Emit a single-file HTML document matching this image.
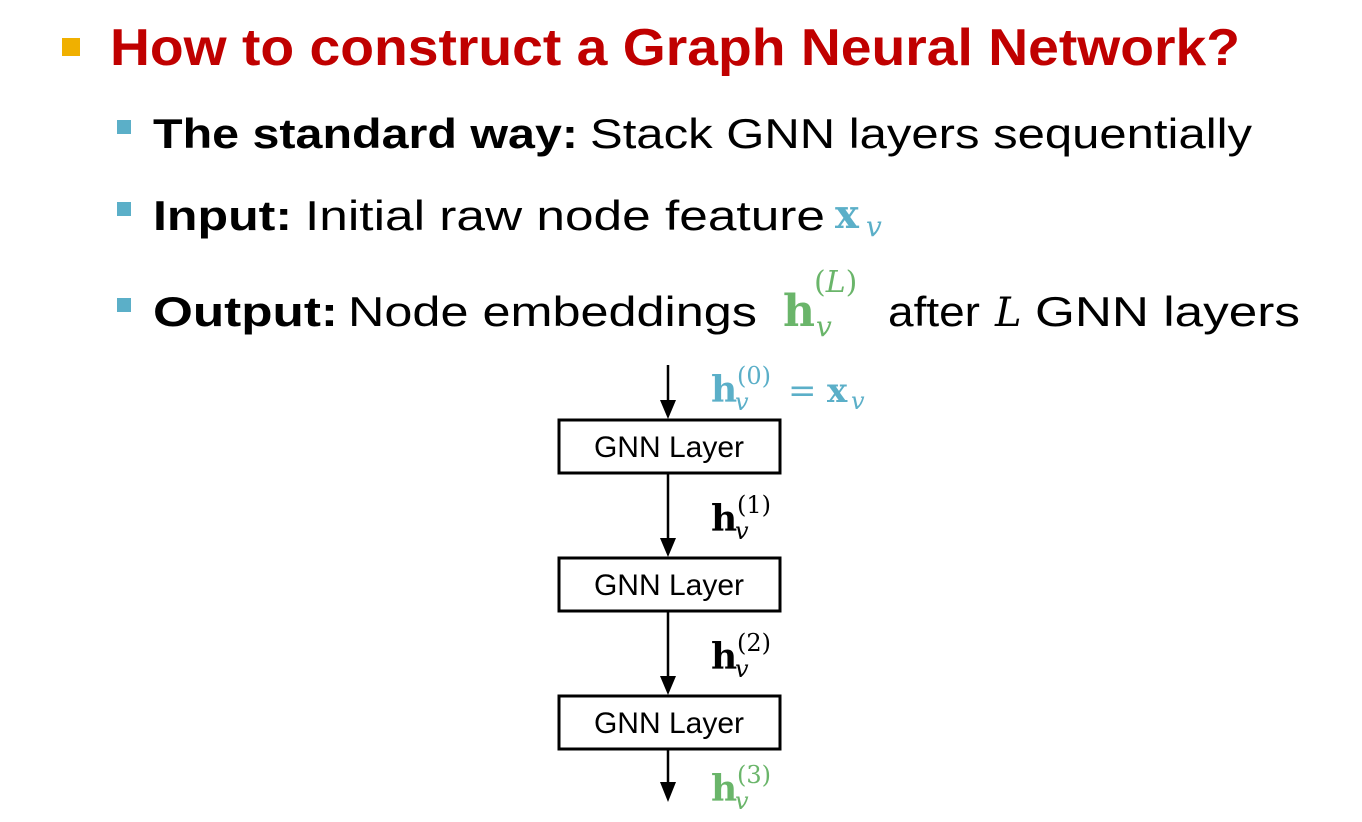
<!DOCTYPE html>
<html><head><meta charset="utf-8"><style>
body{margin:0;background:#fff;}
svg{display:block}
.m{font-family:"DejaVu Serif","Liberation Serif",serif;font-weight:bold}
.i{font-family:"DejaVu Serif","Liberation Serif",serif;font-style:italic}
.n{font-family:"DejaVu Serif","Liberation Serif",serif}
</style></head><body>
<svg width="1362" height="822" xmlns="http://www.w3.org/2000/svg">
<rect x="62" y="38" width="18" height="18" fill="#F0B000"/>
<text x="110" y="65" font-family="Liberation Sans" font-weight="bold" font-size="52" fill="#C00000" textLength="1130" lengthAdjust="spacingAndGlyphs">How to construct a Graph Neural Network?</text>
<g fill="#5BAFC8"><rect x="117" y="120" width="14" height="14"/><rect x="117" y="202" width="14" height="14"/><rect x="117" y="298" width="14" height="14"/></g>
<g font-family="Liberation Sans" font-size="42" fill="#000">
<text x="153" y="148" font-weight="bold" textLength="425" lengthAdjust="spacingAndGlyphs">The standard way:</text>
<text x="590" y="148" textLength="662" lengthAdjust="spacingAndGlyphs">Stack GNN layers sequentially</text>
<text x="153" y="230" font-weight="bold" textLength="139" lengthAdjust="spacingAndGlyphs">Input:</text>
<text x="305" y="230" textLength="520" lengthAdjust="spacingAndGlyphs">Initial raw node feature</text>
<text x="153" y="326" font-weight="bold" textLength="185" lengthAdjust="spacingAndGlyphs">Output:</text>
<text x="348" y="326" textLength="409" lengthAdjust="spacingAndGlyphs">Node embeddings</text>
<text x="888" y="326" textLength="92" lengthAdjust="spacingAndGlyphs">after</text>
<text x="1035" y="326" textLength="265" lengthAdjust="spacingAndGlyphs">GNN layers</text>
</g>
<text x="995" y="326" class="i" font-size="40">L</text>
<g fill="#5BAFC8"><text x="835" y="228" class="m" font-size="40">x</text><text x="866" y="236" class="i" font-size="28">v</text></g>
<g fill="#6AB56A"><text x="783" y="326" class="m" font-size="44">h</text><text x="816" y="336" class="i" font-size="28">v</text><text x="814" y="292" class="n" font-size="30">(<tspan class="i">L</tspan>)</text></g>
<g stroke="#000" stroke-width="2.5"><line x1="668" y1="365" x2="668" y2="405"/><line x1="668" y1="473" x2="668" y2="542"/><line x1="668" y1="611" x2="668" y2="680"/><line x1="668" y1="749" x2="668" y2="785"/></g>
<g fill="#000"><polygon points="660,400 676,400 668,419"/><polygon points="660,538 676,538 668,557"/><polygon points="660,676 676,676 668,695"/><polygon points="660,782 676,782 668,802"/></g>
<g fill="#fff" stroke="#000" stroke-width="3"><rect x="559" y="420" width="221" height="53"/><rect x="559" y="558" width="221" height="53"/><rect x="559" y="696" width="221" height="53"/></g>
<g font-family="Liberation Sans" font-size="30" text-anchor="middle"><text x="669" y="457">GNN Layer</text><text x="669" y="595">GNN Layer</text><text x="669" y="733">GNN Layer</text></g>
<g fill="#5BAFC8"><text x="711" y="402" class="m" font-size="36">h</text><text x="735" y="410" class="i" font-size="24">v</text><text x="737" y="384" class="n" font-size="24">(0)</text><text x="788" y="402" class="n" font-size="34">=</text><text x="827" y="402" class="m" font-size="34">x</text><text x="851" y="409" class="i" font-size="24">v</text></g>
<g fill="#000"><text x="711" y="531" class="m" font-size="36">h</text><text x="735" y="539" class="i" font-size="24">v</text><text x="737" y="513" class="n" font-size="24">(1)</text>
<text x="711" y="669" class="m" font-size="36">h</text><text x="735" y="677" class="i" font-size="24">v</text><text x="737" y="651" class="n" font-size="24">(2)</text></g>
<g fill="#6AB56A"><text x="711" y="801" class="m" font-size="36">h</text><text x="735" y="809" class="i" font-size="24">v</text><text x="737" y="783" class="n" font-size="24">(3)</text></g>
</svg>
</body></html>
